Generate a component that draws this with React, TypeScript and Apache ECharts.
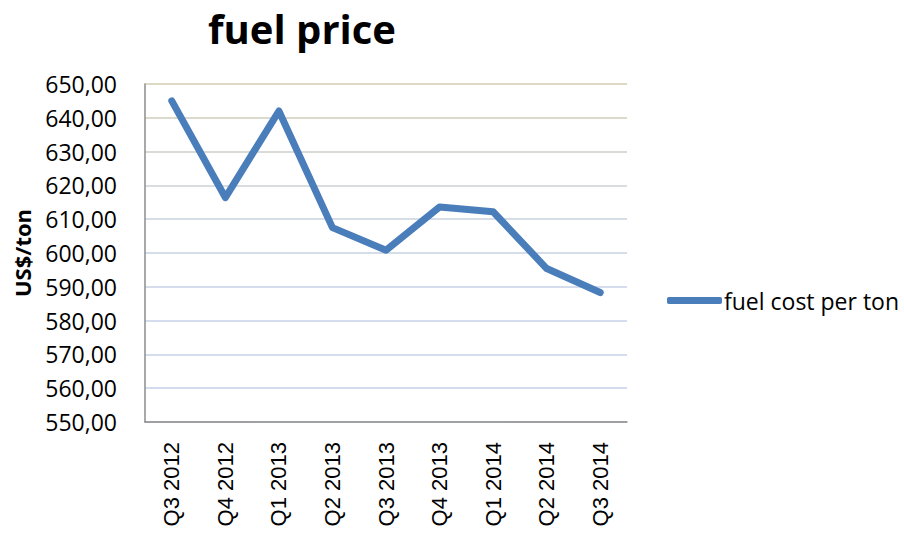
import React, { useEffect, useRef } from "react";
import * as echarts from "echarts";

const categories = ["Q3 2012", "Q4 2012", "Q1 2013", "Q2 2013", "Q3 2013", "Q4 2013", "Q1 2014", "Q2 2014", "Q3 2014"];
const fuelCost = [645.0, 616.4, 642.0, 607.5, 600.8, 613.6, 612.2, 595.4, 588.3];
const seriesName = "fuel cost per ton";
const titleText = "fuel price";
const yAxisName = "US$/ton";

export default function App() {
  const ref = useRef<HTMLDivElement>(null);
  useEffect(() => {
    document.body.style.margin = "0";
    const chart = echarts.init(ref.current!, null, { renderer: "svg" });
    const gridColors = [
      "#d4ddef", "#d4ddef", "#d4ddee", "#d4ddee", "#d5ddec", "#d6ddea",
      "#d7dde6", "#d8dde0", "#d9dbd6", "#dbdacc", "#ddd9c3",
    ];
    chart.setOption({
      animation: false,
      backgroundColor: "#ffffff",
      title: {
        text: titleText,
        left: 297,
        textAlign: "center",
        top: 3,
        textStyle: { fontFamily: "Open Sans", fontWeight: "bold", fontSize: 40, color: "#000" },
      },
      legend: {
        data: [seriesName],
        left: 662,
        top: 284,
        orient: "vertical",
        itemWidth: 55,
        itemHeight: 7,
        itemGap: 0,
        icon: "roundRect",
        textStyle: { fontFamily: "Open Sans", fontSize: 23, color: "#000", padding: [0, 0, 0, -3] },
      },
      grid: { left: 145, right: 277, top: 84, bottom: 112, containLabel: false, outerBoundsMode: "none" },
      xAxis: {
        type: "category",
        data: categories,
        boundaryGap: true,
        axisLine: { show: true, lineStyle: { color: "#8c8c8c", width: 1.5 } },
        axisTick: { show: false },
        axisLabel: {
          rotate: 90,
          interval: 0,
          margin: 20,
          fontFamily: "Liberation Sans",
          fontSize: 22,
          color: "#000",
        },
      },
      yAxis: {
        type: "value",
        min: 550,
        max: 650,
        interval: 10,
        name: yAxisName,
        nameLocation: "middle",
        nameGap: 112,
        nameRotate: 90,
        nameTextStyle: { fontFamily: "Open Sans", fontWeight: "bold", fontSize: 22, color: "#000" },
        axisLine: { show: true, lineStyle: { color: "#8c8c8c", width: 1.5 } },
        axisTick: { show: false },
        axisLabel: {
          margin: 28,
          fontFamily: "Open Sans",
          fontSize: 23,
          color: "#000",
          formatter: (v: number) => v.toFixed(2).replace(".", ","),
        },
        splitLine: { show: true, lineStyle: { color: gridColors, width: 2 } },
      },
      series: [
        {
          name: seriesName,
          type: "line",
          data: fuelCost,
          showSymbol: false,
          symbol: "none",
          lineStyle: { color: "#4a7ebb", width: 7, cap: "round", join: "round" },
          itemStyle: { color: "#4a7ebb" },
        },
      ],
    });
    return () => chart.dispose();
  }, []);
  return <div ref={ref} style={{ width: 904, height: 534 }} />;
}
